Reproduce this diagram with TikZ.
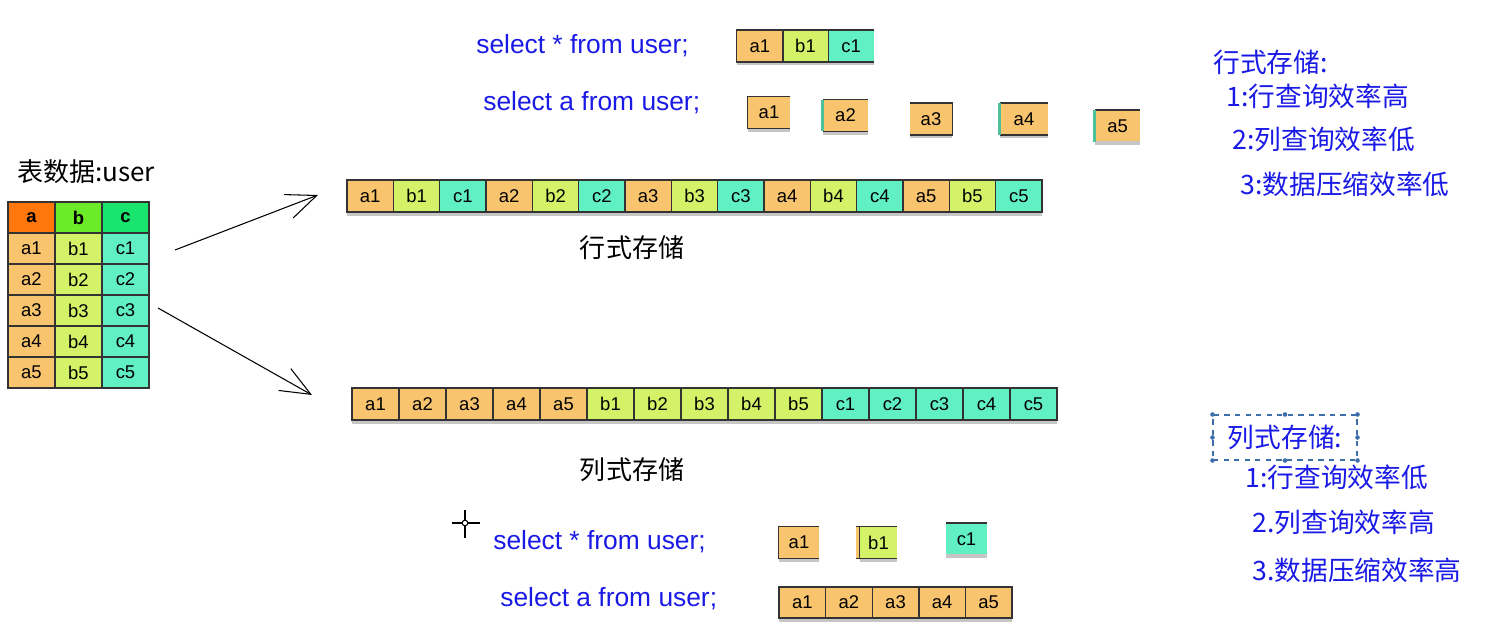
\documentclass[tikz,border=0pt]{standalone}
\usepackage{fontspec}
\setmainfont{Liberation Sans}
\newfontfamily\cjk{Noto Sans CJK SC}
\usetikzlibrary{arrows.meta,shadows}

\definecolor{fillA}{RGB}{248,196,110}
\definecolor{fillB}{RGB}{212,242,104}
\definecolor{fillC}{RGB}{96,240,196}
\definecolor{headA}{RGB}{255,118,10}
\definecolor{headB}{RGB}{108,236,40}
\definecolor{headC}{RGB}{24,228,110}
\definecolor{queryBlue}{RGB}{26,26,230}
\definecolor{handleBlue}{RGB}{60,110,170}
\newcommand\cellfont{\fontsize{10.5}{12}\selectfont}

\begin{document}
\begin{tikzpicture}[x=0.02cm, y=-0.02cm,
    shade/.style={drop shadow={shadow xshift=0pt, shadow yshift=-2.2pt, opacity=0.45}},
    tabcell/.style={draw=black!80, line width=0.8pt, minimum width=0.94cm, minimum height=0.62cm, inner sep=0pt, font=\cellfont},
    cell/.style={draw=black!80, line width=0.8pt, minimum width=0.926cm, minimum height=0.64cm, inner sep=0pt, font=\cellfont, shade},
    piece/.style={minimum height=0.62cm, inner sep=0pt, font=\cellfont, shade},
    rim/.style={draw=black!80, line width=0.8pt},
    cyanrim/.style={draw=fillC!80!black, line width=1.6pt},
    query/.style={anchor=west, inner sep=0pt, text=queryBlue, font=\fontsize{15}{18}\selectfont},
    note/.style={anchor=west, inner sep=0pt, text=queryBlue, font=\cjk\fontsize{15.2}{17}\selectfont},
    caption/.style={inner sep=0pt, font=\cjk\fontsize{14.8}{17}\selectfont},
    arr/.style={line width=0.6pt, -{Straight Barb[length=0.6cm, width=0.5cm, line width=0.6pt]}}
  ]
  \useasboundingbox (0,0) rectangle (1495,631);

  % table
  \node[caption] (title) at (86,172) {表数据:user};
  \node[tabcell, fill=headA, font=\cellfont\bfseries] (ha) at (31.5,217.5) {a};
  \node[tabcell, fill=headB, font=\cellfont\bfseries] (hb) at (78.5,217.5) {b};
  \node[tabcell, fill=headC, font=\cellfont\bfseries] (hc) at (125.5,217.5) {c};
  \foreach \r in {1,...,5} {
    \node[tabcell, fill=fillA] (ta\r) at (31.5,{217.5+31*\r}) {a\r};
    \node[tabcell, fill=fillB] (tb\r) at (78.5,{217.5+31*\r}) {b\r};
    \node[tabcell, fill=fillC] (tc\r) at (125.5,{217.5+31*\r}) {c\r};
  }

  % arrows
  \coordinate (upStart) at (175,250);
  \coordinate (upEnd) at (318,195);
  \coordinate (downStart) at (158,308);
  \coordinate (downEnd) at (312,395);
  \draw[arr] (upStart) -- (upEnd);
  \draw[arr] (downStart) -- (downEnd);

  % row store
  \foreach \lab/\col [count=\i] in {a1/fillA,b1/fillB,c1/fillC,a2/fillA,b2/fillB,c2/fillC,a3/fillA,b3/fillB,c3/fillC,a4/fillA,b4/fillB,c4/fillC,a5/fillA,b5/fillB,c5/fillC}
    \node[cell, fill=\col] (row\i) at ({370.2+46.33*(\i-1)},196) {\lab};
  \node[caption] (rowcap) at (632,248) {行式存储};

  % column store
  \foreach \lab/\col [count=\i] in {a1/fillA,a2/fillA,a3/fillA,a4/fillA,a5/fillA,b1/fillB,b2/fillB,b3/fillB,b4/fillB,b5/fillB,c1/fillC,c2/fillC,c3/fillC,c4/fillC,c5/fillC}
    \node[cell, fill=\col, minimum width=0.94cm] (col\i) at ({375.5+47*(\i-1)},404) {\lab};
  \node[caption] (colcap) at (632,470) {列式存储};

  % queries on the row store
  \node[query] (rq1) at (476,46) {select * from user;};
  \node[query] (rq2) at (483,103) {select a from user;};
  \node[piece, fill=fillA, minimum width=0.914cm] (ra) at (759.8,46) {a1};
  \node[piece, fill=fillB, minimum width=0.914cm] (rb) at (805.5,46) {b1};
  \node[piece, fill=fillC, minimum width=0.914cm] (rc) at (851.2,46) {c1};
  \draw[rim] (rc.north east) -- (ra.north west) -- (ra.south west) -- (rc.south east);
  \draw[rim] (ra.north east) -- (ra.south east) (rb.north east) -- (rb.south east);

  \node[piece, fill=fillA, minimum width=0.84cm] (sa1) at (769,112.5) {a1};
  \node[piece, fill=fillA, minimum width=0.9cm] (sa2) at (845.5,115.5) {a2};
  \node[piece, fill=fillA, minimum width=0.84cm] (sa3) at (931,119) {a3};
  \node[piece, fill=fillA, minimum width=0.96cm] (sa4) at (1024,119) {a4};
  \node[piece, fill=fillA, minimum width=0.9cm] (sa5) at (1117.5,126) {a5};
  \draw[rim] (sa1.north east) -- (sa1.north west) -- (sa1.south west) -- (sa1.south east);
  \draw[rim] (sa2.north west) -- (sa2.north east) (sa2.south west) -- (sa2.south east);
  \draw[cyanrim] (sa2.north west) -- (sa2.south west);
  \draw[rim] (sa3.north west) -- (sa3.north east) -- (sa3.south east) -- (sa3.south west);
  \draw[rim] (sa4.north west) -- (sa4.north east) (sa4.south west) -- (sa4.south east);
  \draw[cyanrim] (sa4.north west) -- (sa4.south west);
  \draw[rim] (sa5.north west) -- (sa5.north east);
  \draw[cyanrim] (sa5.north west) -- (sa5.south west);

  % queries on the column store
  \draw[line width=0.6pt] (452,523) -- (480,523) (465,510) -- (465,538);
  \draw[line width=0.6pt, fill=white] (465,523) circle (1.6pt);
  \node[query] (cq1) at (493,542) {select * from user;};
  \node[query] (cq2) at (500,599) {select a from user;};
  \node[piece, fill=fillA, minimum width=0.8cm] (sb1) at (799,542.5) {a1};
  \node[piece, fill=fillB, minimum width=0.74cm] (sb2) at (878.5,542.5) {b1};
  \node[piece, fill=fillC, minimum width=0.82cm] (sb3) at (966.5,539) {c1};
  \draw[rim] (sb1.north east) -- (sb1.north west) -- (sb1.south west) -- (sb1.south east);
  \fill[fillA] (sb2.north west) rectangle ([xshift=-0.08cm]sb2.south west);
  \draw[rim] ([xshift=-0.08cm]sb2.north west) -- (sb2.north east) ([xshift=-0.08cm]sb2.south west) -- (sb2.south east);
  \draw[rim] (sb2.north west) -- (sb2.south west);
  \draw[rim] (sb3.north west) -- (sb3.north east);
  \foreach \i in {1,...,5}
    \node[cell, fill=fillA, minimum width=0.932cm, minimum height=0.62cm] (sc\i) at ({802.3+46.6*(\i-1)},602.5) {a\i};

  % notes
  \node[note] (rn0) at (1213,62) {行式存储:};
  \node[note] (rn1) at (1226,96) {1:行查询效率高};
  \node[note] (rn2) at (1232,139) {2:列查询效率低};
  \node[note] (rn3) at (1240,184) {3:数据压缩效率低};

  \node[draw=handleBlue, dashed, line width=0.6pt, minimum width=2.88cm, minimum height=0.9cm, inner sep=0pt, text=queryBlue, font=\cjk\fontsize{15.2}{17}\selectfont] (cn0) at (1285,437.5) {列式存储:};
  \foreach \a in {north west,north,north east,east,south east,south,south west,west}
    \fill[handleBlue] (cn0.\a) circle (1.3pt);
  \node[note] (cn1) at (1245,477) {1:行查询效率低};
  \node[note] (cn2) at (1252,522) {2.列查询效率高};
  \node[note] (cn3) at (1252,570) {3.数据压缩效率高};

\end{tikzpicture}
\end{document}
